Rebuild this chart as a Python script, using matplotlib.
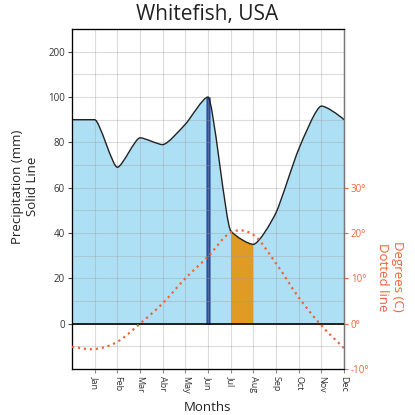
import numpy as np
import matplotlib
matplotlib.use("Agg")
import matplotlib.pyplot as plt
from matplotlib.path import Path
from matplotlib.patches import PathPatch

plt.rcParams['font.family'] = ['Open Sans', 'DejaVu Sans']

# Monthly values (x = 0 is the start point, 1..12 are Jan..Dec)
months = ["Jan", "Feb", "Mar", "Abr", "May", "Jun",
          "Jul", "Aug", "Sep", "Oct", "Nov", "Dec"]
month_pos = np.arange(0, 13)
precip = [90, 90, 69, 82, 79, 88, 100, 41, 35, 49, 77, 96, 90]      # mm
temp = [-5.1, -5.6, -4.0, 0.0, 4.5, 10.0, 14.8, 20.1, 19.6, 13.3, 5.8, -0.4, -5.4]  # C

wettest = 6          # Jun
arid = (7, 8)        # Jul..Aug, temperature above precipitation

blue_fill = '#AEE0F5'
orange = '#E09B24'
bar_blue = '#2A4A9C'
temp_col = '#F0643A'


def monotone_slopes(x, y):
    # tangents as in d3.curveMonotoneX
    x = np.asarray(x, float); y = np.asarray(y, float)
    h = np.diff(x); s = np.diff(y) / h
    m = np.zeros(len(x))
    sgn = lambda v: -1.0 if v < 0 else 1.0
    for i in range(1, len(x) - 1):
        s0, s1, h0, h1 = s[i - 1], s[i], h[i - 1], h[i]
        p = (s0 * h1 + s1 * h0) / (h0 + h1)
        m[i] = (sgn(s0) + sgn(s1)) * min(abs(s0), abs(s1), 0.5 * abs(p))
    m[0] = (3 * s[0] - m[1]) / 2
    m[-1] = (3 * s[-1] - m[-2]) / 2
    return m


def cardinal_slopes(x, y):
    x = np.asarray(x, float); y = np.asarray(y, float)
    m = np.zeros(len(x))
    m[1:-1] = (y[2:] - y[:-2]) / (x[2:] - x[:-2])
    m[0] = (y[1] - y[0]) / (x[1] - x[0])
    m[-1] = (y[-1] - y[-2]) / (x[-1] - x[-2])
    return m


def smooth_path(x, y, m, handle=1 / 3, base=None):
    # Bezier segments; a short handle keeps the line close to straight
    verts = [(x[0], y[0])]
    codes = [Path.MOVETO]
    for i in range(len(x) - 1):
        h = (x[i + 1] - x[i]) * handle
        verts += [(x[i] + h, y[i] + m[i] * h),
                  (x[i + 1] - h, y[i + 1] - m[i + 1] * h),
                  (x[i + 1], y[i + 1])]
        codes += [Path.CURVE4] * 3
    if base is not None:
        verts += [(x[-1], base), (x[0], base), (x[0], y[0])]
        codes += [Path.LINETO, Path.LINETO, Path.CLOSEPOLY]
    return Path(verts, codes)


# precipitation axis is squeezed 5x above 100 mm
def fwd(v):
    v = np.asarray(v, float)
    return np.where(v <= 100, v, 100 + (v - 100) / 5)


def inv(v):
    v = np.asarray(v, float)
    return np.where(v <= 100, v, 100 + (v - 100) * 5)


fig = plt.figure(figsize=(4.15, 4.15), dpi=100)
ax = fig.add_axes([0.1735, 0.1108, 0.6555, 0.8193])
ax.set_yscale('function', functions=(fwd, inv))
ax.set_xlim(0, 12)
ax.set_ylim(-20, 250)

pm = monotone_slopes(month_pos, precip)
fill = PathPatch(smooth_path(month_pos, precip, pm, handle=0.22, base=0),
                 facecolor=blue_fill, edgecolor='none', zorder=1)
ax.add_patch(fill)

span = ax.axvspan(arid[0], arid[1], color=orange, lw=0, zorder=1.2)
span.set_clip_path(fill)

ax.bar(month_pos[wettest], precip[wettest], width=0.15, color=bar_blue,
       edgecolor='#5F86CF', linewidth=0.6, zorder=1.4)

ax.add_patch(PathPatch(smooth_path(month_pos, precip, pm, handle=0.22),
                       fill=False, edgecolor='#222222', lw=1.0, zorder=3))
ax.axhline(0, color='black', lw=1.2, zorder=3)

# grid
ax.set_yticks([0, 20, 40, 60, 80, 100, 200])
ax.set_yticks([-10, 10, 30, 50, 70, 90, 150], minor=True)
ax.set_xticks(range(1, 13))
ax.set_xticklabels(months, rotation=-90, fontsize=6.5, color='#333333')
ax.set_axisbelow(False)
ax.grid(True, which='both', color='#9a9a9a', alpha=0.35, lw=0.8)
ax.tick_params(axis='y', which='major', length=3, width=0.8, color='#444444',
               labelsize=7, labelcolor='#333333', pad=2)
ax.tick_params(axis='y', which='minor', length=0)
ax.tick_params(axis='x', length=3, width=0.8, color='#888888', pad=2)
ax.yaxis.set_major_formatter(plt.FuncFormatter(lambda v, p: f"{v:.0f}"))
for s in ax.spines.values():
    s.set_color('#777777')
    s.set_linewidth(1.0)

# temperature on its own axis: 10 C lines up with 20 mm
ax2 = ax.twinx()
ax2.set_ylim(-10, 65)
tm = cardinal_slopes(month_pos, temp)
ax2.add_patch(PathPatch(smooth_path(month_pos, temp, tm), fill=False,
                        edgecolor=temp_col, lw=1.6, linestyle=(0, (1, 1.7)),
                        capstyle='butt', zorder=4))
ax2.set_yticks([-10, 0, 10, 20, 30])
ax2.set_yticklabels([f"{t}°" for t in [-10, 0, 10, 20, 30]])
ax2.tick_params(axis='y', length=3, width=0.8, color=temp_col,
                labelsize=7, labelcolor=temp_col, pad=2)
ax2.spines['right'].set_color('#777777')

fig.text(0.5, 0.964, "Whitefish, USA", ha='center', va='center',
         fontsize=15, color='#222222')
fig.text(0.5, 0.017, "Months", ha='center', va='center',
         fontsize=9.5, color='#222222')
fig.text(0.06, 0.55, "Precipitation (mm)\nSolid Line", rotation=90,
         ha='center', va='center', fontsize=9.5, color='#222222',
         multialignment='center')
fig.text(0.94, 0.333, "Degrees (C)\nDotted line", rotation=270,
         ha='center', va='center', fontsize=9.5, color=temp_col,
         multialignment='center')

fig.savefig("out.png", dpi=100)
